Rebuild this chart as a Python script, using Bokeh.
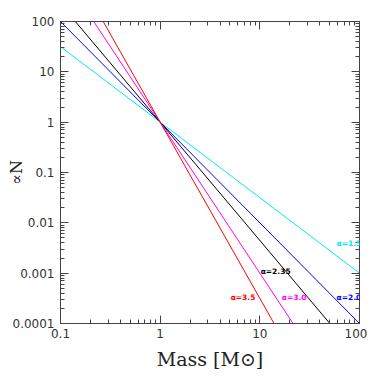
from bokeh.plotting import figure
from bokeh.models import LogAxis, Range1d, FixedTicker, ColumnDataSource, LabelSet
from bokeh.core.properties import value
from bokeh.embed import file_html
from bokeh.resources import INLINE

# Data (power laws N ∝ M^-alpha, normalised at M = 1)
mass = [0.1, 1.0, 100.0]
n_a15 = [31.62, 1.0, 0.001]
n_a20 = [100.0, 1.0, 0.0001]
n_a235 = [223.9, 1.0, 0.00002]
n_a30 = [1000.0, 1.0, 0.000001]
n_a35 = [3162.0, 1.0, 0.0000001]

series_names = ["α=1.5", "α=2.0", "α=2.35", "α=3.0", "α=3.5"]
series_colors = ["#00E8F0", "#0000FF", "#000000", "#FF00FF", "#FF0000"]
label_x = [58.9, 58.9, 10.2, 16.6, 5.1]
label_y = [0.0038, 0.00033, 0.0011, 0.00033, 0.00033]

x_ticks = [0.1, 1, 10, 100]
x_tick_labels = ["0.1", "1", "10", "100"]
y_ticks = [0.0001, 0.001, 0.01, 0.1, 1, 10, 100]
y_tick_labels = ["0.0001", "0.001", "0.01", "0.1", "1", "10", "100"]

x_minor = [v * k for v in x_ticks[:-1] for k in range(2, 10)]
y_minor = [v * k for v in y_ticks[:-1] for k in range(2, 10)]

p = figure(frame_width=299, frame_height=302, x_axis_type="log", y_axis_type="log",
           x_range=Range1d(0.1, 100), y_range=Range1d(0.0001, 100),
           output_backend="svg", toolbar_location=None,
           min_border_left=60, min_border_right=8, min_border_top=21,
           min_border_bottom=44)
p.grid.visible = False
p.outline_line_color = "#444444"
p.background_fill_color = "white"

all_series = [n_a15, n_a20, n_a235, n_a30, n_a35]
for ys, c in zip(all_series, series_colors):
    p.line(mass, ys, line_color=c, line_width=1)

src = ColumnDataSource(dict(x=label_x, y=label_y, t=series_names, c=series_colors))
labels = LabelSet(x="x", y="y", text="t", text_color="c", source=src,
                  text_font=value("DejaVu Sans"), text_font_size=value("7.5px"),
                  text_font_style=value("bold"), text_baseline=value("middle"),
                  text_align=value("left"))
p.add_layout(labels)

def style(ax, labels=True):
    ax.major_tick_in = 8
    ax.major_tick_out = 0
    ax.minor_tick_in = 4
    ax.minor_tick_out = 0
    ax.axis_line_color = "#444444"
    ax.major_tick_line_color = "#444444"
    ax.minor_tick_line_color = "#444444"
    if labels:
        ax.major_label_text_font = "DejaVu Sans"
        ax.major_label_text_font_size = "12px"
        ax.major_label_text_color = "#333333"
        ax.major_label_standoff = 6
    else:
        ax.major_label_text_font_size = "1px"
        ax.major_label_text_alpha = 0.0
        ax.major_label_standoff = 0

p.xaxis.ticker = FixedTicker(ticks=x_ticks, minor_ticks=x_minor)
p.xaxis.major_label_overrides = dict(zip(x_ticks, x_tick_labels))
p.yaxis.ticker = FixedTicker(ticks=y_ticks, minor_ticks=y_minor)
p.yaxis.major_label_overrides = dict(zip(y_ticks, y_tick_labels))
style(p.xaxis[0])
style(p.yaxis[0])
p.xaxis.axis_label = "Mass [M⊙]"
p.yaxis.axis_label = "∝N"
for ax in (p.xaxis[0], p.yaxis[0]):
    ax.axis_label_text_font = "DejaVu Serif"
    ax.axis_label_text_font_style = "normal"
    ax.axis_label_text_color = "#222222"
p.xaxis.axis_label_text_font_size = "19px"
p.yaxis.axis_label_text_font_size = "16px"
p.xaxis.major_label_standoff = 5
p.xaxis.axis_label_standoff = 7
p.yaxis.axis_label_standoff = -16

top = LogAxis(ticker=FixedTicker(ticks=x_ticks, minor_ticks=x_minor))
style(top, labels=False)
right = LogAxis(ticker=FixedTicker(ticks=y_ticks, minor_ticks=y_minor))
style(right, labels=False)
p.add_layout(top, "above")
p.add_layout(right, "right")

open("out.html", "w").write(file_html(p, INLINE))
